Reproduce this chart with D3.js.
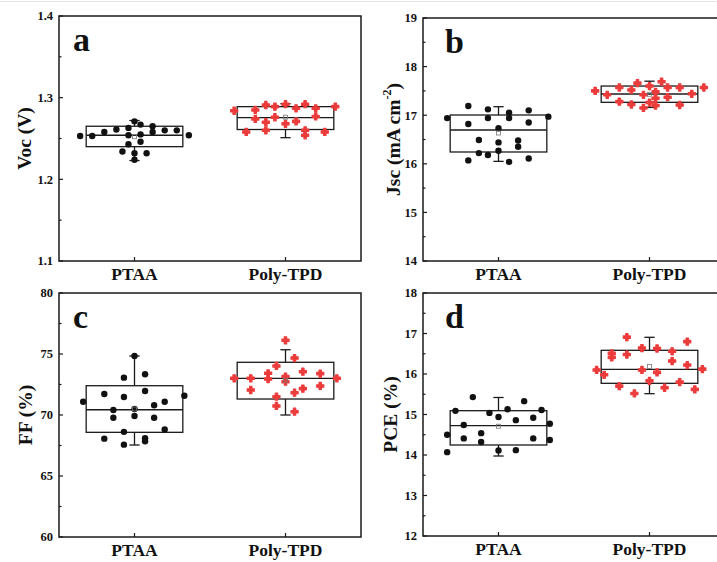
<!DOCTYPE html>
<html lang="en">
<head>
<meta charset="UTF-8">
<title>PTAA vs Poly-TPD box charts</title>
<script src="https://d3js.org/d3.v7.min.js"></script>
<style>
  body { margin: 0; background: #fff; }
  svg { display: block; font-family: "Liberation Serif", "Times New Roman", serif; font-weight: bold; }
  .frame { fill: none; stroke: #1a1a1a; stroke-width: 1.5; }
  .box, .whisker { fill: none; stroke: #1a1a1a; stroke-width: 1.3; }
  .tick-label { font-size: 12.5px; fill: #111; }
  .cat-label { font-size: 17.5px; fill: #111; }
  .y-title { font-size: 19.5px; fill: #111; }
  .panel-letter { font-size: 34px; fill: #111; }
</style>
</head>
<body>
<svg width="717" height="562"></svg>
<script>
const categories = ['PTAA', 'Poly-TPD'];

// Voc (V)
const vocPtaa = [1.253, 1.253, 1.258, 1.261, 1.263, 1.271, 1.267, 1.265, 1.260, 1.260,
                 1.254, 1.254, 1.255, 1.258, 1.243, 1.246, 1.234, 1.232, 1.232, 1.224];
const vocPoly = [1.284, 1.258, 1.285, 1.274, 1.291, 1.270, 1.260, 1.289, 1.276, 1.292,
                 1.268, 1.287, 1.271, 1.292, 1.260, 1.254, 1.287, 1.277, 1.258, 1.289];
// Jsc (mA cm-2)
const jscPtaa = [16.94, 17.19, 16.82, 16.49, 16.07, 16.22, 17.12, 16.94, 16.18, 16.73, 16.44,
                 16.27, 17.05, 16.94, 16.04, 16.48, 16.35, 17.10, 16.85, 16.11, 16.97];
const jscPoly = [17.50, 17.42, 17.57, 17.28, 17.52, 17.22, 17.66, 17.42, 17.15, 17.60, 17.26,
                 17.48, 17.35, 17.20, 17.69, 17.57, 17.37, 17.57, 17.21, 17.44, 17.57];
// FF (%)
const ffPtaa = [71.09, 71.72, 68.06, 70.41, 69.78, 73.06, 71.48, 68.62, 67.57, 74.84, 70.49,
                69.92, 73.34, 71.97, 68.09, 67.84, 70.80, 69.78, 71.09, 68.81, 71.58];
const ffPoly = [73.01, 73.01, 72.05, 73.42, 72.95, 74.02, 71.50, 70.74, 76.12, 73.15,
                72.73, 74.67, 71.83, 70.27, 73.55, 72.16, 73.39, 72.38, 73.01];
// PCE (%)
const pcePtaa = [14.50, 14.07, 15.09, 14.74, 14.41, 15.43, 14.54, 14.32, 15.04, 14.94,
                 14.11, 15.13, 14.86, 14.12, 15.33, 14.92, 14.41, 15.11, 14.77, 14.37];
const pcePoly = [16.10, 15.98, 16.51, 16.41, 15.70, 16.91, 16.48, 15.52, 16.64, 16.10, 15.83,
                 16.63, 16.04, 15.66, 16.56, 16.32, 15.80, 16.80, 16.22, 15.62, 16.12];

// horizontal spread of the points around each category (in category units)
const vocPtaaSpread = [-0.36, -0.28, -0.2, -0.12, -0.04, 0, 0.04, 0.12, 0.2, 0.28,
                       0.36, -0.04, 0.04, 0.12, -0.04, 0.04, -0.08, 0, 0.08, 0];
const vocPolySpread = [-0.34, -0.26, -0.2, -0.2, -0.13, -0.13, -0.13, -0.07, -0.07, 0,
                       0, 0.07, 0.07, 0.13, 0.13, 0.13, 0.2, 0.2, 0.26, 0.33];
const jscPtaaSpread = [-0.34, -0.2, -0.2, -0.13, -0.2, -0.13, -0.07, -0.07, -0.07, 0, 0,
                       0, 0.07, 0.07, 0.07, 0.13, 0.13, 0.2, 0.2, 0.2, 0.33];
const jscPolySpread = [-0.36, -0.28, -0.2, -0.2, -0.12, -0.12, -0.08, -0.04, -0.04, 0, 0,
                       0.04, 0.04, 0.04, 0.08, 0.12, 0.12, 0.2, 0.2, 0.28, 0.36];
const ffPtaaSpread = [-0.34, -0.2, -0.2, -0.14, -0.14, -0.07, -0.07, -0.07, -0.07, 0, 0,
                      0, 0.07, 0.07, 0.07, 0.07, 0.13, 0.13, 0.2, 0.2, 0.33];
const ffPolySpread = [-0.34, -0.23, -0.23, -0.115, -0.115, -0.06, -0.06, -0.06, 0, 0,
                      0, 0.06, 0.06, 0.06, 0.115, 0.115, 0.23, 0.23, 0.34];
const pcePtaaSpread = [-0.34, -0.34, -0.285, -0.23, -0.23, -0.17, -0.115, -0.115, -0.06, 0,
                       0, 0.06, 0.115, 0.115, 0.17, 0.23, 0.23, 0.285, 0.34, 0.34];
const pcePolySpread = [-0.35, -0.3, -0.25, -0.25, -0.2, -0.15, -0.15, -0.1, -0.05, -0.05, 0,
                       0.05, 0.05, 0.1, 0.15, 0.15, 0.2, 0.25, 0.25, 0.3, 0.35];

// box statistics: [q1, median, q3, whisker low, whisker high]
const vocBoxes = [[1.240, 1.254, 1.265, 1.223, 1.272], [1.261, 1.2755, 1.289, 1.251, 1.2926]];
const jscBoxes = [[16.243, 16.695, 17.004, 16.05, 17.175], [17.265, 17.436, 17.60, 17.16, 17.70]];
const ffBoxes = [[68.58, 70.43, 72.40, 67.54, 74.84], [71.31, 73.01, 74.32, 70.0, 75.35]];
const pceBoxes = [[14.247, 14.724, 15.094, 13.975, 15.42], [15.77, 16.116, 16.585, 15.514, 16.906]];

// y axis ticks
const vocTicks = [1.1, 1.2, 1.3, 1.4];
const jscTicks = [14, 15, 16, 17, 18, 19];
const ffTicks = [60, 65, 70, 75, 80];
const pceTicks = [12, 13, 14, 15, 16, 17, 18];

const svg = d3.select('svg');

// thin grey rule along the top edge of the image
svg.append('line')
  .attr('x1', 0).attr('x2', 717).attr('y1', 1.5).attr('y2', 1.5)
  .attr('stroke', '#e4e4e4').attr('stroke-width', 1);

const panels = [
  { letter: 'a', left: 59, top: 16, bottom: 261, ticks: vocTicks, fmt: d3.format('.1f'),
    title: ['Voc (V)'], titleX: 24, letterDx: 14,
    groups: [[vocPtaa, vocPtaaSpread], [vocPoly, vocPolySpread]], boxes: vocBoxes },
  { letter: 'b', left: 423, top: 18, bottom: 261, ticks: jscTicks, fmt: d3.format('d'),
    title: ['Jsc (mA cm', '-2', ')'], titleX: 393, letterDx: 22,
    groups: [[jscPtaa, jscPtaaSpread], [jscPoly, jscPolySpread]], boxes: jscBoxes },
  { letter: 'c', left: 59, top: 293, bottom: 537, ticks: ffTicks, fmt: d3.format('d'),
    title: ['FF (%)'], titleX: 25, letterDx: 14,
    groups: [[ffPtaa, ffPtaaSpread], [ffPoly, ffPolySpread]], boxes: ffBoxes },
  { letter: 'd', left: 423, top: 293, bottom: 536, ticks: pceTicks, fmt: d3.format('d'),
    title: ['PCE (%)'], titleX: 390, letterDx: 22,
    groups: [[pcePtaa, pcePtaaSpread], [pcePoly, pcePolySpread]], boxes: pceBoxes }
];

const plotWidth = 302;
const boxHalf = 0.32;   // half box width in category units
const capHalf = 0.034;  // half whisker cap width
const redMarker = d3.symbol().type(d3.symbolCross).size(28);

panels.forEach(p => {
  const x = d3.scaleLinear().domain([0.5, 2.5]).range([p.left, p.left + plotWidth]);
  const y = d3.scaleLinear().domain([p.ticks[0], p.ticks[p.ticks.length - 1]]).range([p.bottom, p.top]);
  const g = svg.append('g');

  // minor ticks half way between the labelled ones
  const step = p.ticks[1] - p.ticks[0];
  const minor = p.ticks.slice(0, -1).map(t => t + step / 2);

  g.selectAll('.major').data(p.ticks).enter().append('line')
    .attr('x1', p.left).attr('x2', p.left + 4)
    .attr('y1', d => y(d)).attr('y2', d => y(d))
    .attr('stroke', '#1a1a1a').attr('stroke-width', 1.2);
  g.selectAll('.minor').data(minor).enter().append('line')
    .attr('x1', p.left).attr('x2', p.left + 2.5)
    .attr('y1', d => y(d)).attr('y2', d => y(d))
    .attr('stroke', '#1a1a1a').attr('stroke-width', 1.2);

  g.selectAll('.tick-label').data(p.ticks).enter().append('text')
    .attr('class', 'tick-label')
    .attr('x', p.left - 6)
    .attr('y', d => y(d))
    .attr('dy', '0.35em')
    .attr('text-anchor', 'end')
    .text(d => p.fmt(d));

  // category ticks and labels
  g.selectAll('.xtick').data(categories).enter().append('line')
    .attr('x1', (d, i) => x(i + 1)).attr('x2', (d, i) => x(i + 1))
    .attr('y1', p.bottom).attr('y2', p.bottom - 4)
    .attr('stroke', '#1a1a1a').attr('stroke-width', 1.2);
  g.selectAll('.cat-label').data(categories).enter().append('text')
    .attr('class', 'cat-label')
    .attr('x', (d, i) => x(i + 1))
    .attr('y', p.bottom + 19)
    .attr('text-anchor', 'middle')
    .text(d => d);

  // boxes and whiskers
  p.boxes.forEach((b, i) => {
    const c = i + 1;
    g.append('rect').attr('class', 'box')
      .attr('x', x(c - boxHalf)).attr('width', x(c + boxHalf) - x(c - boxHalf))
      .attr('y', y(b[2])).attr('height', y(b[0]) - y(b[2]));
    g.append('line').attr('class', 'box')
      .attr('x1', x(c - boxHalf)).attr('x2', x(c + boxHalf))
      .attr('y1', y(b[1])).attr('y2', y(b[1]));
    [[b[2], b[4]], [b[0], b[3]]].forEach(([from, to]) => {
      g.append('line').attr('class', 'whisker')
        .attr('x1', x(c)).attr('x2', x(c)).attr('y1', y(from)).attr('y2', y(to));
      g.append('line').attr('class', 'whisker')
        .attr('x1', x(c - capHalf)).attr('x2', x(c + capHalf)).attr('y1', y(to)).attr('y2', y(to));
    });
  });

  // data points
  const [ptaa, poly] = p.groups;
  g.selectAll('.pt-ptaa').data(ptaa[0]).enter().append('circle')
    .attr('cx', (d, j) => x(1 + ptaa[1][j]))
    .attr('cy', d => y(d))
    .attr('r', 3.2)
    .attr('fill', '#111');
  g.selectAll('.pt-poly').data(poly[0]).enter().append('path')
    .attr('d', redMarker)
    .attr('transform', (d, j) => `translate(${x(2 + poly[1][j])},${y(d)})`)
    .attr('fill', '#ec3b3b')
    .attr('stroke', '#ec3b3b')
    .attr('stroke-width', 1.2)
    .attr('stroke-linejoin', 'round');

  // mean markers
  p.groups.forEach((grp, i) => {
    const m = d3.mean(grp[0]);
    g.append('rect')
      .attr('x', x(i + 1) - 2).attr('y', y(m) - 2)
      .attr('width', 4).attr('height', 4)
      .attr('fill', 'none').attr('stroke', '#777').attr('stroke-width', 0.8);
  });

  // frame
  g.append('rect').attr('class', 'frame')
    .attr('x', p.left).attr('y', p.top)
    .attr('width', plotWidth).attr('height', p.bottom - p.top);

  // y title
  const cy = (p.top + p.bottom) / 2;
  const t = g.append('text').attr('class', 'y-title')
    .attr('transform', `translate(${p.titleX},${cy}) rotate(-90)`)
    .attr('text-anchor', 'middle')
    .attr('dy', '0.35em');
  t.append('tspan').text(p.title[0]);
  if (p.title.length > 1) {
    t.append('tspan').attr('font-size', '12px').attr('dy', '-0.7em').text(p.title[1]);
    t.append('tspan').attr('dy', '0.45em').text(p.title[2]);
  }

  // panel letter
  g.append('text').attr('class', 'panel-letter')
    .attr('x', p.left + p.letterDx)
    .attr('y', p.top + 35)
    .text(p.letter);
});
</script>
</body>
</html>
